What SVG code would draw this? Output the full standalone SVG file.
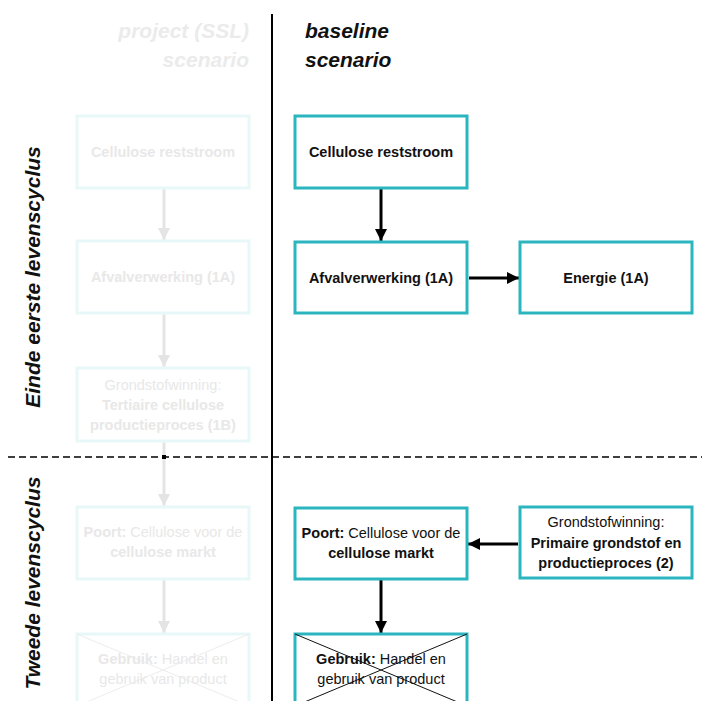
<svg xmlns="http://www.w3.org/2000/svg" width="702" height="701" viewBox="0 0 702 701">
<style>
text{font-family:"Liberation Sans",Arial,sans-serif;}
.box{fill:#fff;stroke:#2bb6bf;stroke-width:3;}
.fbox{fill:#fff;stroke:#e8f7f8;stroke-width:3;}
.t{font-size:14.5px;font-weight:bold;fill:#111;text-anchor:middle;}
.tr{font-size:14.5px;fill:#111;text-anchor:middle;}
.ft{font-size:14.5px;font-weight:bold;fill:#e8e8e8;text-anchor:middle;}
.ftr{font-size:14.5px;fill:#e8e8e8;text-anchor:middle;}
.b{font-weight:bold;}
.n{font-weight:normal;}
.head{font-size:21px;font-weight:bold;font-style:italic;}
.side{font-size:21px;font-weight:bold;font-style:italic;fill:#111;text-anchor:middle;}
.arr{stroke:#000;stroke-width:3;fill:none;marker-end:url(#ah);}
.farr{stroke:#e4e4e4;stroke-width:3;fill:none;marker-end:url(#fah);}
.cross{stroke:#111;stroke-width:1;}
.fcross{stroke:#ececec;stroke-width:1;}
</style>
<defs>
<marker id="ah" viewBox="0 0 10 10" refX="10" refY="5" markerWidth="4" markerHeight="4" orient="auto" markerUnits="strokeWidth"><path d="M0,0 L10,5 L0,10 z" fill="#000"/></marker>
<marker id="fah" viewBox="0 0 10 10" refX="10" refY="5" markerWidth="4" markerHeight="4" orient="auto" markerUnits="strokeWidth"><path d="M0,0 L10,5 L0,10 z" fill="#e4e4e4"/></marker>
</defs>
<rect width="702" height="701" fill="#fff"/>

<g id="headers">
<text class="head" x="249" y="38" text-anchor="end" fill="#ebebeb">project (SSL)</text>
<text class="head" x="249" y="67" text-anchor="end" fill="#ebebeb">scenario</text>
<text class="head" x="305" y="38" fill="#111">baseline</text>
<text class="head" x="305" y="67" fill="#111">scenario</text>
</g>
<g id="side-labels">
<text class="side" transform="translate(40,277) rotate(-90)">Einde eerste levenscyclus</text>
<text class="side" transform="translate(40,583) rotate(-90)">Tweede levenscyclus</text>
</g>

<g id="dividers">
<line x1="272" y1="14" x2="272" y2="701" stroke="#000" stroke-width="2"/>
<line x1="8" y1="457" x2="702" y2="457" stroke="#000" stroke-width="1.5" stroke-dasharray="7,4"/>
</g>

<g id="connectors">
<line class="farr" x1="164" y1="188" x2="164" y2="240"/>
<line class="farr" x1="164" y1="313" x2="164" y2="367"/>
<line class="farr" x1="164" y1="441" x2="164" y2="506"/>
<line class="farr" x1="164" y1="579" x2="164" y2="633"/>
<rect x="162" y="455" width="4" height="4" fill="#000"/>
<line class="arr" x1="381" y1="189" x2="381" y2="241"/>
<line class="arr" x1="469" y1="278" x2="519" y2="278"/>
<line class="arr" x1="518" y1="544" x2="468" y2="544"/>
<line class="arr" x1="381" y1="580" x2="381" y2="633"/>
</g>

<g id="p-cellulose">
<rect class="fbox" x="77" y="116" width="172" height="72"/>
<text class="ft" x="163" y="157">Cellulose reststroom</text>
</g>
<g id="p-afval">
<rect class="fbox" x="77" y="241" width="172" height="72"/>
<text class="ft" x="163" y="282">Afvalverwerking (1A)</text>
</g>
<g id="p-grondstof">
<rect class="fbox" x="77" y="368" width="172" height="73"/>
<text class="ftr" x="163" y="390">Grondstofwinning:</text>
<text class="ft" x="163" y="410">Tertiaire cellulose</text>
<text class="ft" x="163" y="430">productieproces (1B)</text>
</g>
<g id="p-poort">
<rect class="fbox" x="77" y="507" width="172" height="72"/>
<text class="ftr" x="163" y="537"><tspan class="b">Poort:</tspan> Cellulose voor de</text>
<text class="ft" x="163" y="557">cellulose markt</text>
</g>
<g id="p-gebruik">
<rect class="fbox" x="77" y="634" width="172" height="72"/>
<line class="fcross" x1="77" y1="634" x2="249" y2="706"/>
<line class="fcross" x1="249" y1="634" x2="77" y2="706"/>
<text class="ftr" x="163" y="664"><tspan class="b">Gebruik:</tspan> Handel en</text>
<text class="ftr" x="163" y="684">gebruik van product</text>
</g>

<g id="b-cellulose">
<rect class="box" x="295" y="116" width="172" height="72"/>
<text class="t" x="381" y="157">Cellulose reststroom</text>
</g>
<g id="b-afval">
<rect class="box" x="295" y="242" width="172" height="71"/>
<text class="t" x="381" y="283">Afvalverwerking (1A)</text>
</g>
<g id="b-energie">
<rect class="box" x="520" y="242" width="172" height="71"/>
<text class="t" x="606" y="283">Energie (1A)</text>
</g>
<g id="b-poort">
<rect class="box" x="295" y="508" width="172" height="71"/>
<text class="tr" x="381" y="538"><tspan class="b">Poort:</tspan> Cellulose voor de</text>
<text class="t" x="381" y="558">cellulose markt</text>
</g>
<g id="b-grondstof">
<rect class="box" x="520" y="507" width="172" height="71"/>
<text class="tr" x="606" y="527">Grondstofwinning:</text>
<text class="t" x="606" y="548">Primaire grondstof en</text>
<text class="t" x="606" y="568">productieproces (2)</text>
</g>
<g id="b-gebruik">
<rect class="box" x="295" y="634" width="172" height="72"/>
<line class="cross" x1="295" y1="634" x2="467" y2="706"/>
<line class="cross" x1="467" y1="634" x2="295" y2="706"/>
<text class="tr" x="381" y="664"><tspan class="b">Gebruik:</tspan> Handel en</text>
<text class="tr" x="381" y="684">gebruik van product</text>
</g>
</svg>
